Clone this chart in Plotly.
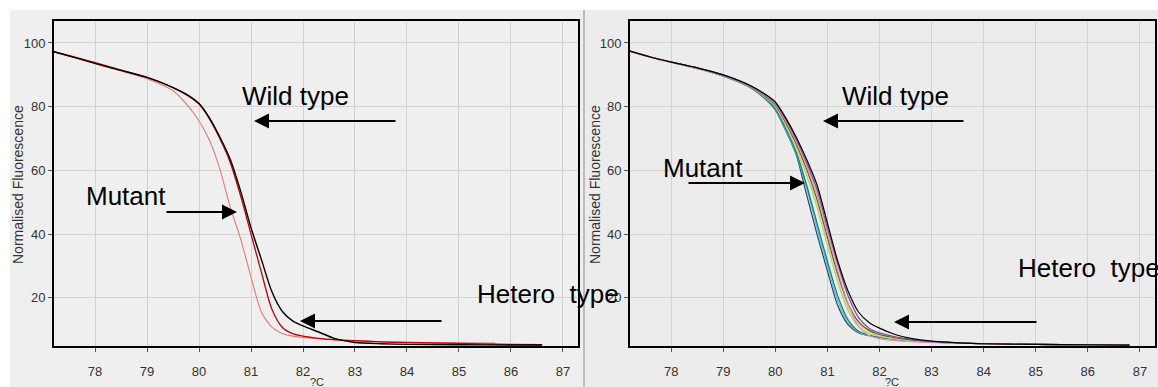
import plotly.graph_objects as go

W, H = 1158, 387

# ---------------- data ----------------
temp = [77.2, 77.6, 78.0, 78.5, 79.0, 79.5, 79.8, 80.0, 80.2, 80.4, 80.6, 80.8,
        81.0, 81.2, 81.4, 81.6, 81.8, 82.0, 82.3, 82.6, 83.0, 83.5, 84.0, 85.0,
        86.0, 86.6]
temp_short = temp[:23] + [85.0, 85.7]
temp_right = temp[:25] + [86.8]

# left panel
left_wild = [97.3, 95.5, 93.6, 91.4, 89.2, 86.0, 83.5, 81.0, 76.5, 70.5, 63.5, 53.5,
             42.0, 32.0, 22.0, 15.8, 12.8, 11.2, 9.3, 7.3, 6.0, 5.6, 5.4, 5.3, 5.2, 5.2]
left_hetero = [97.3, 95.6, 93.8, 91.5, 89.2, 86.0, 83.3, 80.8, 76.2, 70.0, 62.5, 52.0,
               40.0, 28.0, 16.5, 10.8, 8.8, 8.0, 7.3, 6.9, 6.6, 6.2, 6.0, 5.7, 5.4, 5.3]
left_mutant = [97.2, 95.4, 93.5, 91.2, 88.8, 85.0, 80.0, 75.5, 69.5, 60.5, 48.5, 38.5,
               26.5, 15.5, 10.8, 8.8, 8.0, 7.6, 7.2, 6.8, 6.5, 6.2, 6.0, 5.9, 5.8]

# right panel (several samples)
right_names = ["navy", "cyan", "teal", "light green", "yellow", "olive", "pink", "purple", "black"]
right_colors = ["#2e3f6e", "#3cc6d2", "#1d7a6a", "#9ed68c", "#e6d64c", "#5b5a3e", "#f08cb8", "#7d4c90", "#000000"]
right_vals = [
    [97.5, 95.6, 94.0, 92.0, 89.6, 86.2, 82.5, 79.0, 72.5, 65.0, 52.5, 40.0, 28.5, 17.5, 11.5, 9.0, 8.2, 7.7, 7.1, 6.6, 6.2, 5.8, 5.6, 5.4, 5.3, 5.2],
    [97.5, 95.6, 94.0, 92.0, 89.6, 86.2, 82.6, 79.2, 72.8, 65.3, 54.5, 42.0, 30.0, 19.0, 12.2, 9.2, 8.1, 7.6, 7.0, 6.5, 6.1, 5.8, 5.6, 5.4, 5.3, 5.2],
    [97.5, 95.6, 94.0, 92.0, 89.7, 86.3, 82.8, 79.5, 73.3, 65.8, 55.5, 43.5, 31.5, 20.5, 13.0, 9.5, 8.2, 7.6, 7.0, 6.5, 6.1, 5.8, 5.6, 5.4, 5.3, 5.2],
    [97.5, 95.6, 94.0, 92.0, 89.8, 86.4, 83.0, 80.0, 74.0, 66.8, 58.5, 48.5, 36.5, 25.0, 16.0, 11.0, 8.8, 7.9, 7.1, 6.6, 6.2, 5.9, 5.6, 5.4, 5.3, 5.2],
    [97.4, 95.5, 93.9, 92.0, 89.8, 86.4, 83.1, 80.2, 74.5, 67.5, 59.5, 49.8, 38.0, 26.5, 17.0, 11.8, 9.3, 8.2, 7.3, 6.7, 6.2, 5.9, 5.6, 5.4, 5.3, 5.2],
    [97.5, 95.6, 94.0, 92.1, 89.9, 86.5, 83.3, 80.5, 75.0, 68.3, 60.5, 51.0, 39.0, 27.5, 18.0, 12.5, 9.8, 8.5, 7.5, 6.8, 6.3, 5.9, 5.6, 5.4, 5.3, 5.2],
    [97.4, 95.5, 93.9, 92.1, 89.9, 86.6, 83.6, 80.8, 75.5, 69.0, 61.5, 52.5, 40.5, 28.5, 18.0, 11.0, 8.2, 7.2, 6.6, 6.3, 6.0, 5.8, 5.6, 5.4, 5.3, 5.2],
    [97.5, 95.6, 94.0, 92.2, 90.0, 86.7, 83.8, 81.2, 76.0, 69.8, 62.5, 54.0, 42.0, 30.5, 20.5, 13.8, 10.5, 9.0, 7.8, 7.0, 6.3, 5.9, 5.6, 5.4, 5.3, 5.2],
    [97.5, 95.6, 94.0, 92.2, 90.0, 86.8, 84.0, 81.5, 76.5, 70.5, 63.5, 55.5, 43.5, 31.5, 22.0, 15.5, 12.3, 10.5, 8.5, 7.3, 6.4, 5.9, 5.6, 5.4, 5.3, 5.2],
]

x_ticks = [78, 79, 80, 81, 82, 83, 84, 85, 86, 87]
y_ticks = [20, 40, 60, 80, 100]
x_range = [77.21, 87.29]
y_range = [4.9, 106.9]

# ---------------- figure ----------------
fig = go.Figure()

def line(x, y, color, width, xa, ya):
    fig.add_trace(go.Scatter(x=x, y=y, mode="lines", xaxis=xa, yaxis=ya,
                             line=dict(color=color, width=width, shape="spline", smoothing=0.7),
                             hoverinfo="skip", showlegend=False))

line(temp_short, left_mutant, "#e57a7a", 1.1, "x", "y")
line(temp, left_hetero, "#c40000", 1.3, "x", "y")
line(temp, left_wild, "#000000", 1.4, "x", "y")

for vals, col in zip(right_vals, right_colors):
    line(temp_right, vals, col, 1.2, "x2", "y2")

def px(x):
    return x / W

def py(y):
    return 1 - y / H

tick_font = dict(family="Liberation Sans, Arial, sans-serif", size=13, color="#333")
ax_common = dict(range=x_range, tickvals=x_ticks, showgrid=True, gridcolor="#d2d2d2", gridwidth=1,
                 zeroline=False, showline=True, linecolor="#000", linewidth=2, mirror=True,
                 ticks="outside", ticklen=4, tickcolor="#555", tickfont=tick_font,
                 ticklabelstandoff=8, automargin=False)
ay_common = dict(range=y_range, tickvals=y_ticks, showgrid=True, gridcolor="#d2d2d2", gridwidth=1,
                 zeroline=False, showline=True, linecolor="#000", linewidth=2, mirror=True,
                 ticks="outside", ticklen=4, tickcolor="#555", tickfont=tick_font,
                 automargin=False)

fig.update_layout(
    width=W, height=H,
    autosize=False,
    margin=dict(l=0, r=0, t=0, b=0, pad=0),
    paper_bgcolor="#ffffff",
    plot_bgcolor="#ebebeb",
    xaxis=dict(domain=[px(54), px(578)], anchor="y", **ax_common),
    yaxis=dict(domain=[py(346), py(21)], anchor="x", **ay_common),
    xaxis2=dict(domain=[px(630), px(1155)], anchor="y2", **ax_common),
    yaxis2=dict(domain=[py(346), py(21)], anchor="x2", **ay_common),
)

shapes = [
    dict(type="rect", xref="paper", yref="paper", x0=px(10), x1=px(584), y0=0, y1=py(10),
         fillcolor="#efefef", line=dict(width=0), layer="below"),
    dict(type="rect", xref="paper", yref="paper", x0=px(584), x1=1, y0=0, y1=py(10),
         fillcolor="#ececec", line=dict(width=0), layer="below"),
    dict(type="line", xref="paper", yref="paper", x0=px(584), x1=px(584), y0=0, y1=py(10),
         line=dict(color="#8a8a8a", width=1)),
]
fig.update_layout(shapes=shapes)

big = dict(family="Liberation Sans, Arial, sans-serif", size=26, color="#000")
small = dict(family="Liberation Sans, Arial, sans-serif", size=14, color="#333")

annos = []
def text(s, x, y, font, angle=0, xanchor="left"):
    annos.append(dict(text=s, x=px(x), y=py(y), xref="paper", yref="paper", showarrow=False,
                      xanchor=xanchor, yanchor="middle", font=font, textangle=angle))

def arrow(tip_x, tip_y, tail_x):
    annos.append(dict(text="", x=px(tip_x), y=py(tip_y), xref="paper", yref="paper",
                      ax=tail_x - tip_x, ay=0, showarrow=True, arrowhead=2, arrowsize=1.5,
                      arrowwidth=2, arrowcolor="#000"))

# left panel
text("Wild type", 240, 96, big)
arrow(254, 121, 397)
text("Mutant", 84, 196, big)
arrow(237, 212, 165)
text("Hetero\u00a0 type", 475, 294, big)
arrow(300, 321, 443)
text("Normalised Fluorescence", 18, 185, small, angle=-90, xanchor="center")
text("?C", 317, 382, dict(family="Liberation Sans, Arial, sans-serif", size=11, color="#333"), xanchor="center")

# right panel
text("Wild type", 840, 96, big)
arrow(823, 121, 965)
text("Mutant", 661, 168, big)
arrow(805, 183, 687)
text("Hetero\u00a0 type", 1016, 268, big)
arrow(894, 322, 1038)
text("Normalised Fluorescence", 595, 185, small, angle=-90, xanchor="center")
text("?C", 892, 382, dict(family="Liberation Sans, Arial, sans-serif", size=11, color="#333"), xanchor="center")

fig.update_layout(annotations=annos)

fig.write_html("out.html", config={"displayModeBar": False},
               post_script="document.body.style.margin='0';document.body.style.overflow='hidden';")
